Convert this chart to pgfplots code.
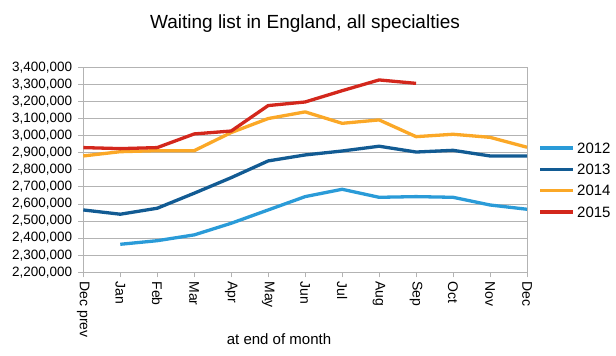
\documentclass[border=0pt]{standalone}
\usepackage{pgfplots}
\pgfplotsset{compat=1.18}
\usepackage{fontspec}
\setmainfont{Liberation Sans}
\definecolor{c12}{HTML}{2A9BD8}
\definecolor{c13}{HTML}{125B93}
\definecolor{c14}{HTML}{FBA827}
\definecolor{c15}{HTML}{D3271C}
\definecolor{gridg}{HTML}{B3B3B3}
\begin{document}
\begin{tikzpicture}[x=1pt,y=1pt]
\path[use as bounding box] (0,0) rectangle (616,356);
\begin{axis}[
  at={(83.3pt,83.7pt)}, anchor=south west,
  scale only axis, width=443.7pt, height=205pt,
  xmin=0, xmax=12, ymin=2200000, ymax=3400000,
  xtick={0,...,12},
  xticklabels={Dec prev,Jan,Feb,Mar,Apr,May,Jun,Jul,Aug,Sep,Oct,Nov,Dec},
  xticklabel style={rotate=-90, anchor=west, font=\fontsize{14}{16}\selectfont, inner sep=0pt, xshift=4pt},
  ytick={2200000,2300000,...,3400000},
  scaled y ticks=false,
  yticklabel style={font=\fontsize{13.5}{15}\selectfont, inner sep=0pt, xshift=-6pt},
  yticklabel={\pgfmathprintnumber[fixed,1000 sep={,}]{\tick}},
  /pgf/number format/assume math mode=true,
  ymajorgrids, grid style={gridg, line width=0.8pt},
  axis line style={gridg, line width=0.8pt},
  tick style={gridg, line width=0.8pt},
  tick align=outside, major tick length=5pt,
  xtick pos=bottom, ytick pos=left,
  axis x line*=bottom, axis y line*=left,
  clip=false,
  every axis plot/.append style={line width=3.3pt, line join=round, no markers},
]
\draw[gridg, line width=0.8pt] (rel axis cs:1,0) -- (rel axis cs:1,1);
\draw[gridg, line width=0.8pt] (rel axis cs:0,1) -- (rel axis cs:1,1);
\addplot[c12] coordinates {(1,2364000)(2,2385000)(3,2419000)(4,2487000)(5,2565000)(6,2643000)(7,2686000)(8,2639000)(9,2643000)(10,2639000)(11,2594000)(12,2569000)};
\addplot[c13] coordinates {(0,2565000)(1,2540000)(2,2575000)(3,2663000)(4,2754000)(5,2852000)(6,2887000)(7,2910000)(8,2938000)(9,2904000)(10,2914000)(11,2881000)(12,2881000)};
\addplot[c14] coordinates {(0,2881000)(1,2906000)(2,2912000)(3,2912000)(4,3018000)(5,3100000)(6,3139000)(7,3072000)(8,3092000)(9,2994000)(10,3008000)(11,2990000)(12,2932000)};
\addplot[c15] coordinates {(0,2930000)(1,2924000)(2,2930000)(3,3010000)(4,3027000)(5,3176000)(6,3197000)(7,3263000)(8,3326000)(9,3306000)};
\end{axis}
\node[font=\fontsize{19}{22}\selectfont] at (305,332) {Waiting list in England, all specialties};
\node[font=\fontsize{15}{18}\selectfont] at (279,17) {at end of month};
\foreach \c/\t [count=\i] in {c12/2012,c13/2013,c14/2014,c15/2015} {
  \draw[\c, line width=3.3pt] (540,{356-148-21.3*(\i-1)}) -- (573,{356-148-21.3*(\i-1)});
  \node[anchor=west, inner sep=0pt, font=\fontsize{15}{18}\selectfont] at (577,{356-148-21.3*(\i-1)}) {\t};
}
\end{tikzpicture}
\end{document}
